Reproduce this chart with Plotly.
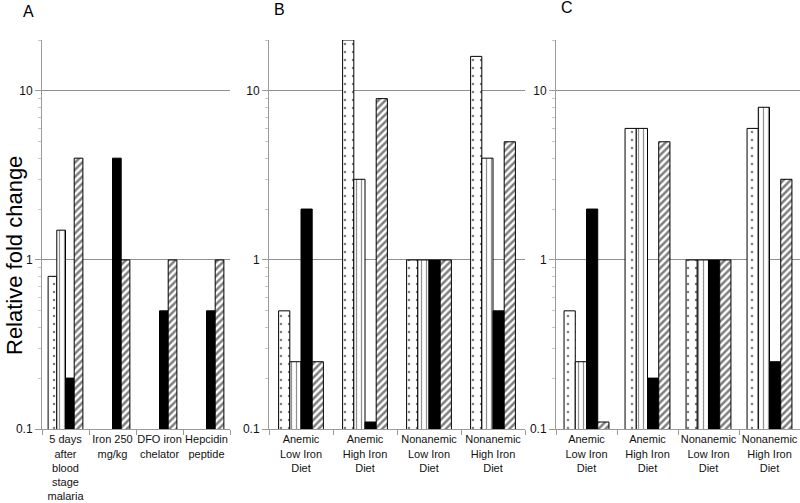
import plotly.graph_objects as go

# ---------------- data ----------------
cats_a = ["5 days<br>after<br>blood<br>stage<br>malaria", "Iron 250<br>mg/kg", "DFO iron<br>chelator", "Hepcidin<br>peptide"]
cats_bc = ["Anemic<br>Low Iron<br>Diet", "Anemic<br>High Iron<br>Diet", "Nonanemic<br>Low Iron<br>Diet", "Nonanemic<br>High Iron<br>Diet"]

# series order: dotted, vertical lines, solid black, diagonal hatch
a_dotted = [0.8, None, None, None]
a_vert = [1.5, None, None, None]
a_black = [0.2, 4, 0.5, 0.5]
a_hatch = [4, 1, 1, 1]

b_dotted = [0.5, 20, 1, 16]
b_vert = [0.25, 3, 1, 4]
b_black = [2, 0.11, 1, 0.5]
b_hatch = [0.25, 9, 1, 5]

c_dotted = [0.5, 6, 1, 6]
c_vert = [0.25, 6, 1, 8]
c_black = [2, 0.2, 1, 0.25]
c_hatch = [0.11, 5, 1, 3]

y_ticks = [0.1, 1, 10]
y_ticktext = ["0.1", "1", "10"]
y_minor = [0.2, 0.3, 0.4, 0.5, 0.6, 0.7, 0.8, 0.9, 2, 3, 4, 5, 6, 7, 8, 9, 20]

# ---------------- styles ----------------
W, H = 800, 503
FONT = "Liberation Sans, Arial, sans-serif"
GRID = "#8f8f8f"
AXIS = "#9a9a9a"

styles = [
    dict(color="white", pattern=dict(shape=".", size=8, solidity=0.08, fgcolor="black", bgcolor="white")),
    dict(color="white", pattern=dict(shape="|", size=5, solidity=0.25, fgcolor="#222", bgcolor="white")),
    dict(color="black"),
    dict(color="white", pattern=dict(shape="/", size=5, solidity=0.5, fgcolor="black", bgcolor="white")),
]

panels = [
    dict(cats=cats_a, series=[a_dotted, a_vert, a_black, a_hatch], dom=(42, 230), w=0.185, letter="A", lx=29, ly=12),
    dict(cats=cats_bc, series=[b_dotted, b_vert, b_black, b_hatch], dom=(269, 525), w=0.175, letter="B", lx=279, ly=9),
    dict(cats=cats_bc, series=[c_dotted, c_vert, c_black, c_hatch], dom=(556, 800), w=0.184, letter="C", lx=567, ly=8),
]

fig = go.Figure()
y_bottom_px, y_top_px = 429, 40
ydom = [(H - y_bottom_px) / H, (H - y_top_px) / H]

annotations = []
for i, p in enumerate(panels):
    n = "" if i == 0 else str(i + 1)
    xa, ya = "x" + n, "y" + n
    w = p["w"]
    for k, vals in enumerate(p["series"]):
        st = styles[k]
        fig.add_trace(go.Bar(
            x=p["cats"], y=vals, xaxis=xa, yaxis=ya,
            width=w, offset=-2 * w + k * w,
            marker=dict(**st, line=dict(color="black", width=1)),
            showlegend=False, hoverinfo="skip",
        ))
    fig.layout["xaxis" + n] = dict(
        domain=[p["dom"][0] / W, p["dom"][1] / W], anchor=ya,
        type="category", showline=True, linecolor=AXIS, linewidth=1,
        ticks="outside", tickson="boundaries", ticklen=5, tickcolor=AXIS,
        tickangle=0, automargin=False,
        tickfont=dict(family=FONT, size=11, color="#111"), showgrid=False, zeroline=False,
        fixedrange=True,
    )
    fig.layout["yaxis" + n] = dict(
        domain=ydom, anchor=xa, type="log", range=[-1, 1.30103],
        tickmode="array", tickvals=y_ticks, ticktext=y_ticktext,
        showline=True, linecolor=AXIS, linewidth=1,
        ticks="outside", ticklen=6, tickcolor=AXIS, automargin=False,
        showgrid=True, gridcolor=GRID, gridwidth=1,
        minor=dict(tickmode="array", tickvals=y_minor, ticks="outside", ticklen=3,
                   tickcolor="#c8c8c8", showgrid=False),
        tickfont=dict(family=FONT, size=12, color="#111"), zeroline=False,
        fixedrange=True,
    )
    annotations.append(dict(
        text=p["letter"], x=p["lx"] / W, y=(H - p["ly"]) / H, xref="paper", yref="paper",
        showarrow=False, xanchor="center", yanchor="middle",
        font=dict(family=FONT, size=16, color="black"),
    ))

annotations.append(dict(
    text="Relative fold change", x=14 / W, y=(H - 256) / H, xref="paper", yref="paper",
    showarrow=False, textangle=-90, xanchor="center", yanchor="middle",
    font=dict(family=FONT, size=22, color="black"),
))

fig.update_layout(
    width=W, height=H, margin=dict(l=0, r=0, t=0, b=0),
    paper_bgcolor="white", plot_bgcolor="white",
    barmode="overlay", annotations=annotations,
)

fig.write_html("out.html", config={"displayModeBar": False},
               post_script="document.body.style.margin='0';document.body.style.overflow='hidden';")
